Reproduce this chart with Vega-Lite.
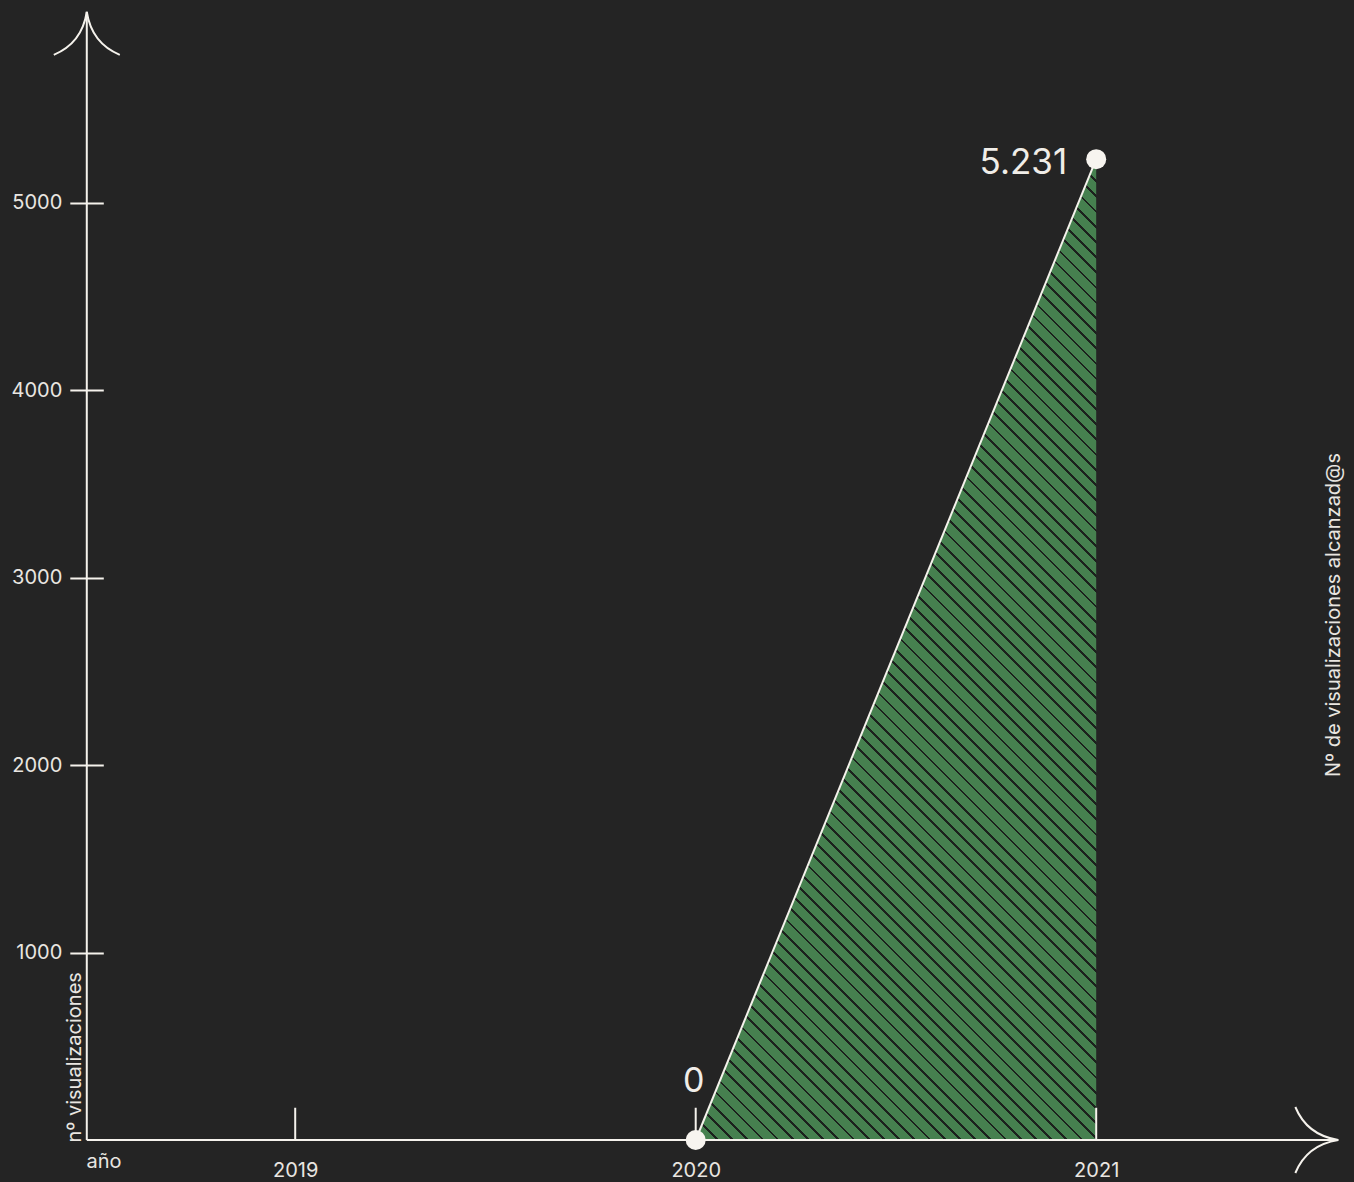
{
 "$schema": "https://vega.github.io/schema/vega-lite/v6.json",
 "width": 1354,
 "height": 1182,
 "padding": 0,
 "autosize": {"type": "none"},
 "background": "#242424",
 "config": {"view": {"stroke": null}, "font": "Inter"},
 "datasets": {
  "series": [{"year": 2020, "views": 0, "label": "0"}, {"year": 2021, "views": 5231, "label": "5.231"}],
  "years": [{"year": 2019}, {"year": 2020}, {"year": 2021}],
  "note": [{"label": "Nº de visualizaciones alcanzad@s"}],
  "one": [{}]
 },
 "layer": [
  {
   "data": {"name": "series"},
   "mark": {"type": "area", "fillOpacity": 1, "color": {"gradient": "linear", "x1": 0, "y1": 1, "x2": 0.4929, "y2": -0.2071, "stops": [
{"offset":0,"color":"#46804f"},
{"offset":0.004,"color":"#46804f"},{"offset":0.004,"color":"#1c211d"},{"offset":0.006,"color":"#1c211d"},{"offset":0.006,"color":"#46804f"},
{"offset":0.015,"color":"#46804f"},{"offset":0.015,"color":"#1c211d"},{"offset":0.017,"color":"#1c211d"},{"offset":0.017,"color":"#46804f"},
{"offset":0.026,"color":"#46804f"},{"offset":0.026,"color":"#1c211d"},{"offset":0.028,"color":"#1c211d"},{"offset":0.028,"color":"#46804f"},
{"offset":0.037,"color":"#46804f"},{"offset":0.037,"color":"#1c211d"},{"offset":0.039,"color":"#1c211d"},{"offset":0.039,"color":"#46804f"},
{"offset":0.048,"color":"#46804f"},{"offset":0.048,"color":"#1c211d"},{"offset":0.05,"color":"#1c211d"},{"offset":0.05,"color":"#46804f"},
{"offset":0.059,"color":"#46804f"},{"offset":0.059,"color":"#1c211d"},{"offset":0.061,"color":"#1c211d"},{"offset":0.061,"color":"#46804f"},
{"offset":0.07,"color":"#46804f"},{"offset":0.07,"color":"#1c211d"},{"offset":0.072,"color":"#1c211d"},{"offset":0.072,"color":"#46804f"},
{"offset":0.081,"color":"#46804f"},{"offset":0.081,"color":"#1c211d"},{"offset":0.083,"color":"#1c211d"},{"offset":0.083,"color":"#46804f"},
{"offset":0.092,"color":"#46804f"},{"offset":0.092,"color":"#1c211d"},{"offset":0.094,"color":"#1c211d"},{"offset":0.094,"color":"#46804f"},
{"offset":0.103,"color":"#46804f"},{"offset":0.103,"color":"#1c211d"},{"offset":0.105,"color":"#1c211d"},{"offset":0.105,"color":"#46804f"},
{"offset":0.114,"color":"#46804f"},{"offset":0.114,"color":"#1c211d"},{"offset":0.116,"color":"#1c211d"},{"offset":0.116,"color":"#46804f"},
{"offset":0.125,"color":"#46804f"},{"offset":0.125,"color":"#1c211d"},{"offset":0.127,"color":"#1c211d"},{"offset":0.127,"color":"#46804f"},
{"offset":0.136,"color":"#46804f"},{"offset":0.136,"color":"#1c211d"},{"offset":0.138,"color":"#1c211d"},{"offset":0.138,"color":"#46804f"},
{"offset":0.147,"color":"#46804f"},{"offset":0.147,"color":"#1c211d"},{"offset":0.149,"color":"#1c211d"},{"offset":0.149,"color":"#46804f"},
{"offset":0.158,"color":"#46804f"},{"offset":0.158,"color":"#1c211d"},{"offset":0.16,"color":"#1c211d"},{"offset":0.16,"color":"#46804f"},
{"offset":0.169,"color":"#46804f"},{"offset":0.169,"color":"#1c211d"},{"offset":0.171,"color":"#1c211d"},{"offset":0.171,"color":"#46804f"},
{"offset":0.18,"color":"#46804f"},{"offset":0.18,"color":"#1c211d"},{"offset":0.182,"color":"#1c211d"},{"offset":0.182,"color":"#46804f"},
{"offset":0.191,"color":"#46804f"},{"offset":0.191,"color":"#1c211d"},{"offset":0.193,"color":"#1c211d"},{"offset":0.193,"color":"#46804f"},
{"offset":0.202,"color":"#46804f"},{"offset":0.202,"color":"#1c211d"},{"offset":0.204,"color":"#1c211d"},{"offset":0.204,"color":"#46804f"},
{"offset":0.213,"color":"#46804f"},{"offset":0.213,"color":"#1c211d"},{"offset":0.215,"color":"#1c211d"},{"offset":0.215,"color":"#46804f"},
{"offset":0.224,"color":"#46804f"},{"offset":0.224,"color":"#1c211d"},{"offset":0.226,"color":"#1c211d"},{"offset":0.226,"color":"#46804f"},
{"offset":0.235,"color":"#46804f"},{"offset":0.235,"color":"#1c211d"},{"offset":0.237,"color":"#1c211d"},{"offset":0.237,"color":"#46804f"},
{"offset":0.246,"color":"#46804f"},{"offset":0.246,"color":"#1c211d"},{"offset":0.248,"color":"#1c211d"},{"offset":0.248,"color":"#46804f"},
{"offset":0.257,"color":"#46804f"},{"offset":0.257,"color":"#1c211d"},{"offset":0.259,"color":"#1c211d"},{"offset":0.259,"color":"#46804f"},
{"offset":0.268,"color":"#46804f"},{"offset":0.268,"color":"#1c211d"},{"offset":0.27,"color":"#1c211d"},{"offset":0.27,"color":"#46804f"},
{"offset":0.279,"color":"#46804f"},{"offset":0.279,"color":"#1c211d"},{"offset":0.281,"color":"#1c211d"},{"offset":0.281,"color":"#46804f"},
{"offset":0.29,"color":"#46804f"},{"offset":0.29,"color":"#1c211d"},{"offset":0.292,"color":"#1c211d"},{"offset":0.292,"color":"#46804f"},
{"offset":0.301,"color":"#46804f"},{"offset":0.301,"color":"#1c211d"},{"offset":0.303,"color":"#1c211d"},{"offset":0.303,"color":"#46804f"},
{"offset":0.312,"color":"#46804f"},{"offset":0.312,"color":"#1c211d"},{"offset":0.314,"color":"#1c211d"},{"offset":0.314,"color":"#46804f"},
{"offset":0.323,"color":"#46804f"},{"offset":0.323,"color":"#1c211d"},{"offset":0.325,"color":"#1c211d"},{"offset":0.325,"color":"#46804f"},
{"offset":0.334,"color":"#46804f"},{"offset":0.334,"color":"#1c211d"},{"offset":0.336,"color":"#1c211d"},{"offset":0.336,"color":"#46804f"},
{"offset":0.345,"color":"#46804f"},{"offset":0.345,"color":"#1c211d"},{"offset":0.347,"color":"#1c211d"},{"offset":0.347,"color":"#46804f"},
{"offset":0.356,"color":"#46804f"},{"offset":0.356,"color":"#1c211d"},{"offset":0.358,"color":"#1c211d"},{"offset":0.358,"color":"#46804f"},
{"offset":0.367,"color":"#46804f"},{"offset":0.367,"color":"#1c211d"},{"offset":0.369,"color":"#1c211d"},{"offset":0.369,"color":"#46804f"},
{"offset":0.378,"color":"#46804f"},{"offset":0.378,"color":"#1c211d"},{"offset":0.38,"color":"#1c211d"},{"offset":0.38,"color":"#46804f"},
{"offset":0.389,"color":"#46804f"},{"offset":0.389,"color":"#1c211d"},{"offset":0.391,"color":"#1c211d"},{"offset":0.391,"color":"#46804f"},
{"offset":0.4,"color":"#46804f"},{"offset":0.4,"color":"#1c211d"},{"offset":0.402,"color":"#1c211d"},{"offset":0.402,"color":"#46804f"},
{"offset":0.411,"color":"#46804f"},{"offset":0.411,"color":"#1c211d"},{"offset":0.413,"color":"#1c211d"},{"offset":0.413,"color":"#46804f"},
{"offset":0.422,"color":"#46804f"},{"offset":0.422,"color":"#1c211d"},{"offset":0.424,"color":"#1c211d"},{"offset":0.424,"color":"#46804f"},
{"offset":0.433,"color":"#46804f"},{"offset":0.433,"color":"#1c211d"},{"offset":0.435,"color":"#1c211d"},{"offset":0.435,"color":"#46804f"},
{"offset":0.444,"color":"#46804f"},{"offset":0.444,"color":"#1c211d"},{"offset":0.446,"color":"#1c211d"},{"offset":0.446,"color":"#46804f"},
{"offset":0.455,"color":"#46804f"},{"offset":0.455,"color":"#1c211d"},{"offset":0.457,"color":"#1c211d"},{"offset":0.457,"color":"#46804f"},
{"offset":0.466,"color":"#46804f"},{"offset":0.466,"color":"#1c211d"},{"offset":0.468,"color":"#1c211d"},{"offset":0.468,"color":"#46804f"},
{"offset":0.477,"color":"#46804f"},{"offset":0.477,"color":"#1c211d"},{"offset":0.479,"color":"#1c211d"},{"offset":0.479,"color":"#46804f"},
{"offset":0.488,"color":"#46804f"},{"offset":0.488,"color":"#1c211d"},{"offset":0.49,"color":"#1c211d"},{"offset":0.49,"color":"#46804f"},
{"offset":0.499,"color":"#46804f"},{"offset":0.499,"color":"#1c211d"},{"offset":0.501,"color":"#1c211d"},{"offset":0.501,"color":"#46804f"},
{"offset":0.51,"color":"#46804f"},{"offset":0.51,"color":"#1c211d"},{"offset":0.512,"color":"#1c211d"},{"offset":0.512,"color":"#46804f"},
{"offset":0.521,"color":"#46804f"},{"offset":0.521,"color":"#1c211d"},{"offset":0.523,"color":"#1c211d"},{"offset":0.523,"color":"#46804f"},
{"offset":0.532,"color":"#46804f"},{"offset":0.532,"color":"#1c211d"},{"offset":0.534,"color":"#1c211d"},{"offset":0.534,"color":"#46804f"},
{"offset":0.543,"color":"#46804f"},{"offset":0.543,"color":"#1c211d"},{"offset":0.545,"color":"#1c211d"},{"offset":0.545,"color":"#46804f"},
{"offset":0.554,"color":"#46804f"},{"offset":0.554,"color":"#1c211d"},{"offset":0.556,"color":"#1c211d"},{"offset":0.556,"color":"#46804f"},
{"offset":0.565,"color":"#46804f"},{"offset":0.565,"color":"#1c211d"},{"offset":0.567,"color":"#1c211d"},{"offset":0.567,"color":"#46804f"},
{"offset":0.576,"color":"#46804f"},{"offset":0.576,"color":"#1c211d"},{"offset":0.578,"color":"#1c211d"},{"offset":0.578,"color":"#46804f"},
{"offset":0.587,"color":"#46804f"},{"offset":0.587,"color":"#1c211d"},{"offset":0.589,"color":"#1c211d"},{"offset":0.589,"color":"#46804f"},
{"offset":0.598,"color":"#46804f"},{"offset":0.598,"color":"#1c211d"},{"offset":0.6,"color":"#1c211d"},{"offset":0.6,"color":"#46804f"},
{"offset":0.609,"color":"#46804f"},{"offset":0.609,"color":"#1c211d"},{"offset":0.611,"color":"#1c211d"},{"offset":0.611,"color":"#46804f"},
{"offset":0.62,"color":"#46804f"},{"offset":0.62,"color":"#1c211d"},{"offset":0.622,"color":"#1c211d"},{"offset":0.622,"color":"#46804f"},
{"offset":0.631,"color":"#46804f"},{"offset":0.631,"color":"#1c211d"},{"offset":0.633,"color":"#1c211d"},{"offset":0.633,"color":"#46804f"},
{"offset":0.642,"color":"#46804f"},{"offset":0.642,"color":"#1c211d"},{"offset":0.644,"color":"#1c211d"},{"offset":0.644,"color":"#46804f"},
{"offset":0.653,"color":"#46804f"},{"offset":0.653,"color":"#1c211d"},{"offset":0.655,"color":"#1c211d"},{"offset":0.655,"color":"#46804f"},
{"offset":0.664,"color":"#46804f"},{"offset":0.664,"color":"#1c211d"},{"offset":0.666,"color":"#1c211d"},{"offset":0.666,"color":"#46804f"},
{"offset":0.675,"color":"#46804f"},{"offset":0.675,"color":"#1c211d"},{"offset":0.677,"color":"#1c211d"},{"offset":0.677,"color":"#46804f"},
{"offset":0.686,"color":"#46804f"},{"offset":0.686,"color":"#1c211d"},{"offset":0.688,"color":"#1c211d"},{"offset":0.688,"color":"#46804f"},
{"offset":0.697,"color":"#46804f"},{"offset":0.697,"color":"#1c211d"},{"offset":0.699,"color":"#1c211d"},{"offset":0.699,"color":"#46804f"},
{"offset":0.708,"color":"#46804f"},{"offset":0.708,"color":"#1c211d"},{"offset":0.71,"color":"#1c211d"},{"offset":0.71,"color":"#46804f"},
{"offset":0.719,"color":"#46804f"},{"offset":0.719,"color":"#1c211d"},{"offset":0.721,"color":"#1c211d"},{"offset":0.721,"color":"#46804f"},
{"offset":0.73,"color":"#46804f"},{"offset":0.73,"color":"#1c211d"},{"offset":0.732,"color":"#1c211d"},{"offset":0.732,"color":"#46804f"},
{"offset":0.741,"color":"#46804f"},{"offset":0.741,"color":"#1c211d"},{"offset":0.743,"color":"#1c211d"},{"offset":0.743,"color":"#46804f"},
{"offset":0.752,"color":"#46804f"},{"offset":0.752,"color":"#1c211d"},{"offset":0.754,"color":"#1c211d"},{"offset":0.754,"color":"#46804f"},
{"offset":0.763,"color":"#46804f"},{"offset":0.763,"color":"#1c211d"},{"offset":0.765,"color":"#1c211d"},{"offset":0.765,"color":"#46804f"},
{"offset":0.774,"color":"#46804f"},{"offset":0.774,"color":"#1c211d"},{"offset":0.776,"color":"#1c211d"},{"offset":0.776,"color":"#46804f"},
{"offset":0.785,"color":"#46804f"},{"offset":0.785,"color":"#1c211d"},{"offset":0.787,"color":"#1c211d"},{"offset":0.787,"color":"#46804f"},
{"offset":0.796,"color":"#46804f"},{"offset":0.796,"color":"#1c211d"},{"offset":0.798,"color":"#1c211d"},{"offset":0.798,"color":"#46804f"},
{"offset":0.807,"color":"#46804f"},{"offset":0.807,"color":"#1c211d"},{"offset":0.809,"color":"#1c211d"},{"offset":0.809,"color":"#46804f"},
{"offset":0.818,"color":"#46804f"},{"offset":0.818,"color":"#1c211d"},{"offset":0.82,"color":"#1c211d"},{"offset":0.82,"color":"#46804f"},
{"offset":0.829,"color":"#46804f"},{"offset":0.829,"color":"#1c211d"},{"offset":0.831,"color":"#1c211d"},{"offset":0.831,"color":"#46804f"},
{"offset":0.84,"color":"#46804f"},{"offset":0.84,"color":"#1c211d"},{"offset":0.842,"color":"#1c211d"},{"offset":0.842,"color":"#46804f"},
{"offset":0.851,"color":"#46804f"},{"offset":0.851,"color":"#1c211d"},{"offset":0.853,"color":"#1c211d"},{"offset":0.853,"color":"#46804f"},
{"offset":0.862,"color":"#46804f"},{"offset":0.862,"color":"#1c211d"},{"offset":0.864,"color":"#1c211d"},{"offset":0.864,"color":"#46804f"},
{"offset":0.873,"color":"#46804f"},{"offset":0.873,"color":"#1c211d"},{"offset":0.875,"color":"#1c211d"},{"offset":0.875,"color":"#46804f"},
{"offset":0.884,"color":"#46804f"},{"offset":0.884,"color":"#1c211d"},{"offset":0.886,"color":"#1c211d"},{"offset":0.886,"color":"#46804f"},
{"offset":0.895,"color":"#46804f"},{"offset":0.895,"color":"#1c211d"},{"offset":0.897,"color":"#1c211d"},{"offset":0.897,"color":"#46804f"},
{"offset":0.906,"color":"#46804f"},{"offset":0.906,"color":"#1c211d"},{"offset":0.908,"color":"#1c211d"},{"offset":0.908,"color":"#46804f"},
{"offset":0.917,"color":"#46804f"},{"offset":0.917,"color":"#1c211d"},{"offset":0.919,"color":"#1c211d"},{"offset":0.919,"color":"#46804f"},
{"offset":0.928,"color":"#46804f"},{"offset":0.928,"color":"#1c211d"},{"offset":0.93,"color":"#1c211d"},{"offset":0.93,"color":"#46804f"},
{"offset":0.939,"color":"#46804f"},{"offset":0.939,"color":"#1c211d"},{"offset":0.941,"color":"#1c211d"},{"offset":0.941,"color":"#46804f"},
{"offset":0.95,"color":"#46804f"},{"offset":0.95,"color":"#1c211d"},{"offset":0.952,"color":"#1c211d"},{"offset":0.952,"color":"#46804f"},
{"offset":0.961,"color":"#46804f"},{"offset":0.961,"color":"#1c211d"},{"offset":0.963,"color":"#1c211d"},{"offset":0.963,"color":"#46804f"},
{"offset":0.972,"color":"#46804f"},{"offset":0.972,"color":"#1c211d"},{"offset":0.974,"color":"#1c211d"},{"offset":0.974,"color":"#46804f"},
{"offset":0.983,"color":"#46804f"},{"offset":0.983,"color":"#1c211d"},{"offset":0.985,"color":"#1c211d"},{"offset":0.985,"color":"#46804f"},
{"offset":0.994,"color":"#46804f"},{"offset":0.994,"color":"#1c211d"},{"offset":0.996,"color":"#1c211d"},{"offset":0.996,"color":"#46804f"},
{"offset":1,"color":"#46804f"}
   ]}},
   "encoding": {
    "x": {"field": "year", "type": "quantitative",
     "scale": {"domain": [2018.2629, 2021.6437], "nice": false, "zero": false},
     "axis": {"values": [2019, 2020, 2021], "format": "d", "orient": "bottom", "offset": -42, "domain": false, "ticks": false, "tickSize": 0, "grid": false,
      "labelPadding": 20, "labelFont": "Inter", "labelFontSize": 20, "labelColor": "#e9e6e1", "labelFlush": false, "labelOverlap": false,
      "title": "año", "titleX": 86, "titleY": 27, "titleAlign": "left", "titleBaseline": "alphabetic", "titleFont": "Inter", "titleFontSize": 20, "titleFontWeight": "normal", "titleColor": "#e9e6e1"}},
    "y": {"field": "views", "type": "quantitative",
     "scale": {"domain": [-224, 6080], "nice": false, "zero": false},
     "axis": {"values": [1000, 2000, 3000, 4000, 5000], "format": "d", "orient": "left", "offset": -103.3, "domain": false, "grid": false,
      "tickSize": 33.5, "tickWidth": 2, "tickColor": "#f5f2ec",
      "labelPadding": 8, "labelFont": "Inter", "labelFontSize": 20, "labelColor": "#e9e6e1", "labelFlush": false, "labelOverlap": false,
      "title": "nº visualizaciones", "titleAngle": 270, "titleAlign": "left", "titleBaseline": "alphabetic", "titleX": -23.3, "titleY": 1142, "titleFont": "Inter", "titleFontSize": 20, "titleFontWeight": "normal", "titleColor": "#e9e6e1"}}
   }
  },
  {
   "data": {"name": "series"},
   "mark": {"type": "line", "color": "#f5f2ec", "strokeWidth": 2},
   "encoding": {"x": {"field": "year", "type": "quantitative"}, "y": {"field": "views", "type": "quantitative"}}
  },
  {
   "data": {"name": "one"},
   "mark": {"type": "rule", "color": "#f5f2ec", "strokeWidth": 2},
   "encoding": {"x": {"datum": 2018.4796, "type": "quantitative"}, "y": {"datum": 0, "type": "quantitative"}, "y2": {"datum": 6017}}
  },
  {
   "data": {"name": "one"},
   "mark": {"type": "rule", "color": "#f5f2ec", "strokeWidth": 2},
   "encoding": {"x": {"datum": 2018.4796, "type": "quantitative"}, "x2": {"datum": 2021.6045}, "y": {"datum": 0, "type": "quantitative"}}
  },
  {
   "data": {"name": "years"},
   "mark": {"type": "rule", "color": "#f5f2ec", "strokeWidth": 2},
   "encoding": {"x": {"field": "year", "type": "quantitative"}, "y": {"datum": 0, "type": "quantitative"}, "y2": {"datum": 172}}
  },
  {
   "data": {"name": "one"},
   "mark": {"type": "point", "shape": "M-1,0.65Q-0.15,0.3 0,-0.65Q0.15,0.3 1,0.65", "filled": false, "fill": null, "stroke": "#f5f2ec", "strokeWidth": 2, "size": 4356, "opacity": 1},
   "encoding": {"x": {"datum": 2018.4796, "type": "quantitative"}, "y": {"datum": 5902, "type": "quantitative"}}
  },
  {
   "data": {"name": "one"},
   "mark": {"type": "point", "shape": "M-1,0.65Q-0.15,0.3 0,-0.65Q0.15,0.3 1,0.65", "angle": 90, "filled": false, "fill": null, "stroke": "#f5f2ec", "strokeWidth": 2, "size": 4356, "opacity": 1},
   "encoding": {"x": {"datum": 2021.5508, "type": "quantitative"}, "y": {"datum": 0, "type": "quantitative"}}
  },
  {
   "data": {"name": "series"},
   "mark": {"type": "point", "shape": "circle", "filled": true, "color": "#f7f4ef", "size": 400, "opacity": 1},
   "encoding": {"x": {"field": "year", "type": "quantitative"}, "y": {"field": "views", "type": "quantitative"}}
  },
  {
   "data": {"name": "series"},
   "transform": [{"filter": "datum.year == 2021"}],
   "mark": {"type": "text", "font": "Inter", "fontSize": 35, "color": "#f0ede8", "align": "right", "baseline": "alphabetic", "dx": -29, "dy": 15},
   "encoding": {"x": {"field": "year", "type": "quantitative"}, "y": {"field": "views", "type": "quantitative"}, "text": {"field": "label"}}
  },
  {
   "data": {"name": "series"},
   "transform": [{"filter": "datum.year == 2020"}],
   "mark": {"type": "text", "font": "Inter", "fontSize": 34, "color": "#f0ede8", "align": "center", "baseline": "alphabetic", "dx": -2, "dy": -48},
   "encoding": {"x": {"field": "year", "type": "quantitative"}, "y": {"field": "views", "type": "quantitative"}, "text": {"field": "label"}}
  },
  {
   "data": {"name": "note"},
   "mark": {"type": "text", "font": "Inter", "fontSize": 20, "color": "#e9e6e1", "angle": 270, "align": "center", "baseline": "alphabetic"},
   "encoding": {"x": {"datum": 2021.6088, "type": "quantitative"}, "y": {"datum": 2800, "type": "quantitative"}, "text": {"field": "label"}}
  }
 ]
}
